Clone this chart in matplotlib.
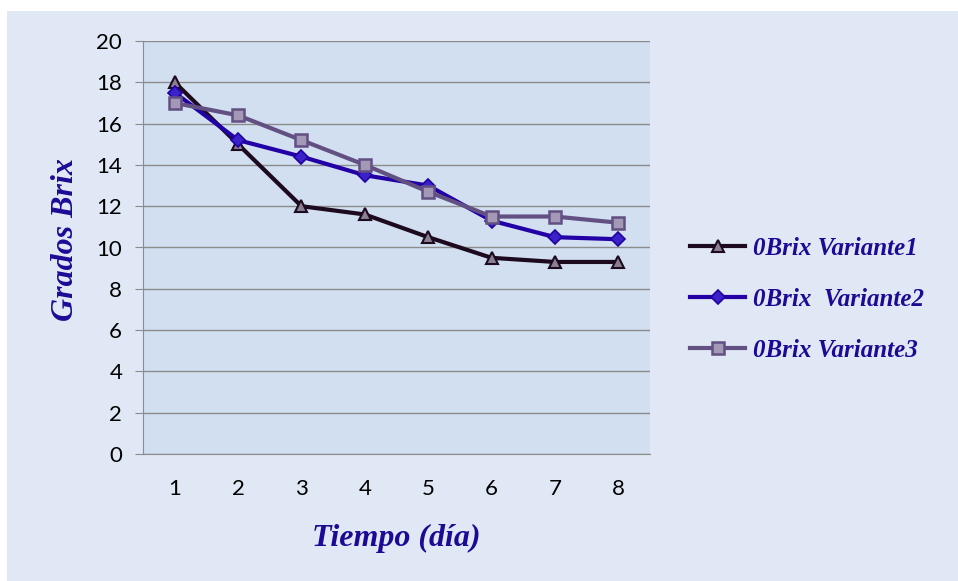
import matplotlib.pyplot as plt
from matplotlib.patches import Rectangle

dias = [1, 2, 3, 4, 5, 6, 7, 8]
variante1 = [18.0, 15.0, 12.0, 11.6, 10.5, 9.5, 9.3, 9.3]
variante2 = [17.5, 15.2, 14.4, 13.5, 13.0, 11.3, 10.5, 10.4]
variante3 = [17.0, 16.4, 15.2, 14.0, 12.7, 11.5, 11.5, 11.2]
etiquetas = ['0Brix Variante1', '0Brix  Variante2', '0Brix Variante3']

txt_color = '#1c0a96'
script_font = {'family': 'Liberation Serif', 'style': 'italic', 'weight': 'bold', 'color': txt_color}

fig = plt.figure(figsize=(9.58, 5.81), dpi=100, facecolor='white')
fig.patches.append(Rectangle((7 / 958, 0), 1, 1 - 11 / 581, transform=fig.transFigure,
                             facecolor='#dfe8f4', edgecolor='none', zorder=-1))
ax = fig.add_axes([143 / 958, 1 - 454 / 581, (650 - 143) / 958, (454 - 41) / 581])
ax.set_facecolor('#d1dff1')

ax.plot(dias, variante1, color='#1e0a1e', lw=3, marker='^', ms=8,
        mfc='#8a7f93', mec='#1e0a1e', mew=1.5, label=etiquetas[0], zorder=3)
ax.plot(dias, variante2, color='#2200a6', lw=3, marker='D', ms=7,
        mfc='#3a22c8', mec='#2200a6', mew=1.2, label=etiquetas[1], zorder=4)
ax.plot(dias, variante3, color='#625083', lw=3, marker='s', ms=9,
        mfc='#a398b6', mec='#625083', mew=1.8, label=etiquetas[2], zorder=5)

ax.set_xlim(0.5, 8.5)
ax.set_ylim(0, 20)
ax.set_yticks(range(0, 21, 2))
ax.set_xticks(dias)
ax.grid(axis='y', color='#8c8c8c', lw=1)
ax.set_axisbelow(True)
for s in ['top', 'right']:
    ax.spines[s].set_visible(False)
ax.spines['left'].set_color('#8c8c8c')
ax.spines['bottom'].set_color('#8c8c8c')
ax.tick_params(axis='y', length=6, color='#8c8c8c', labelsize=16, pad=9)
ax.tick_params(axis='x', length=0, labelsize=16, pad=18)
for lab in ax.get_xticklabels() + ax.get_yticklabels():
    lab.set_family('Lato')

ax.set_xlabel('Tiempo (día)', fontsize=23, labelpad=18, **script_font)
ax.set_ylabel('Grados Brix', fontsize=23, **script_font)
ax.yaxis.set_label_coords(-0.125, 0.52)

leg = ax.legend(loc='center left', bbox_to_anchor=(1.079, 0.375), frameon=False,
                prop={'family': 'Liberation Serif', 'style': 'italic', 'weight': 'bold', 'size': 18},
                handlelength=2.2, labelspacing=1.12, handletextpad=0.3,
                borderpad=0, borderaxespad=0)
for t in leg.get_texts():
    t.set_color(txt_color)

fig.savefig('out.png', dpi=100, facecolor=fig.get_facecolor())
